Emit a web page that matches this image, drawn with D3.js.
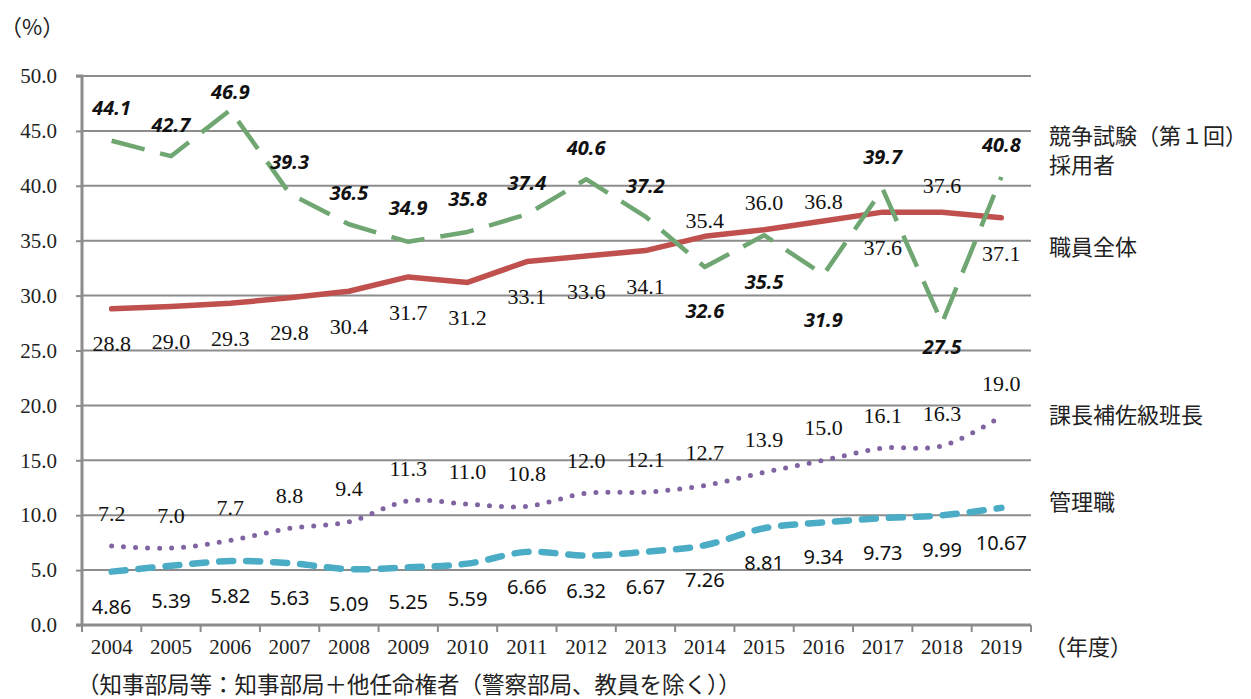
<!DOCTYPE html>
<html>
<head>
<meta charset="utf-8">
<script src="https://cdn.jsdelivr.net/npm/d3@7"></script>
<style>
  body { margin: 0; background: #fff; }
  svg { display: block; }
  .jp { font-family: "Noto Sans CJK JP", sans-serif; }
</style>
</head>
<body>
<div id="chart"></div>
<script>
var svgWidth = 1251;
var svgHeight = 699;

// plot area
var margin = { top: 76, right: 220, bottom: 74, left: 82 };
var width = svgWidth - margin.left - margin.right;
var height = svgHeight - margin.top - margin.bottom;

// data
var years = ["2004", "2005", "2006", "2007", "2008", "2009", "2010", "2011",
  "2012", "2013", "2014", "2015", "2016", "2017", "2018", "2019"];
var yTicks = [0, 5, 10, 15, 20, 25, 30, 35, 40, 45, 50];

var exam = [44.1, 42.7, 46.9, 39.3, 36.5, 34.9, 35.8, 37.4, 40.6, 37.2, 32.6, 35.5, 31.9, 39.7, 27.5, 40.8];
var staff = [28.8, 29.0, 29.3, 29.8, 30.4, 31.7, 31.2, 33.1, 33.6, 34.1, 35.4, 36.0, 36.8, 37.6, 37.6, 37.1];
var deputy = [7.2, 7.0, 7.7, 8.8, 9.4, 11.3, 11.0, 10.8, 12.0, 12.1, 12.7, 13.9, 15.0, 16.1, 16.3, 19.0];
var manager = [4.86, 5.39, 5.82, 5.63, 5.09, 5.25, 5.59, 6.66, 6.32, 6.67, 7.26, 8.81, 9.34, 9.73, 9.99, 10.67];

// label offsets (px from point)
var examDy = [-33, -31, -18, -31, -31, -34, -33, -31, -31, -31, 44, 47, 45, -32, 24, -32];
var staffDy = [35, 35, 35, 35, 35, 35, 35, 35, 35, 36, -16, -27, -20, 35, -27, 36];

var serifFont = "'Liberation Serif', 'DejaVu Serif', 'Times New Roman', serif";
var sansFont = "'Noto Sans', 'DejaVu Sans', sans-serif";

var svg = d3.select("#chart")
  .append("svg")
  .attr("width", svgWidth)
  .attr("height", svgHeight);

var chartGroup = svg.append("g")
  .attr("transform", `translate(${margin.left}, ${margin.top})`);

var xScale = d3.scaleBand().domain(years).range([0, width]).padding(0);
var yScale = d3.scaleLinear().domain([0, 50]).range([height, 0]);
var cx = d => xScale(d) + xScale.bandwidth() / 2;

// gridlines
chartGroup.append("g")
  .selectAll("line")
  .data(yTicks.slice(1))
  .enter()
  .append("line")
  .attr("x1", 0)
  .attr("x2", width)
  .attr("y1", d => yScale(d))
  .attr("y2", d => yScale(d))
  .attr("stroke", "#8c8c8c")
  .attr("stroke-width", 2);

// y axis
var leftAxis = d3.axisLeft(yScale)
  .tickValues(yTicks)
  .tickFormat(d3.format(".1f"))
  .tickSize(6)
  .tickPadding(19);

var yAxis = chartGroup.append("g").call(leftAxis)
  .attr("font-family", null)
  .attr("font-size", null);
yAxis.select(".domain").attr("stroke", "#8c8c8c").attr("stroke-width", 3)
  .attr("d", `M-6,${height}H0V0H-6`);
yAxis.selectAll(".tick line").attr("stroke", "#8c8c8c").attr("stroke-width", 2);
yAxis.selectAll("text")
  .style("font-family", serifFont)
  .style("font-size", "21px")
  .attr("fill", "#222");

// x axis
var bottomAxis = d3.axisBottom(xScale).tickSize(0).tickPadding(14);
var xAxis = chartGroup.append("g")
  .attr("transform", `translate(0, ${height})`)
  .call(bottomAxis)
  .attr("font-family", null)
  .attr("font-size", null);
xAxis.select(".domain").attr("stroke", "#8c8c8c").attr("stroke-width", 3)
  .attr("d", `M0,0H${width}`);
xAxis.selectAll("text")
  .style("font-family", serifFont)
  .style("font-size", "21px")
  .attr("fill", "#222");
// tick marks on band boundaries
xAxis.append("g")
  .selectAll("line")
  .data(years.concat(["end"]))
  .enter()
  .append("line")
  .attr("x1", (d, i) => i * xScale.bandwidth())
  .attr("x2", (d, i) => i * xScale.bandwidth())
  .attr("y1", 0)
  .attr("y2", 7)
  .attr("stroke", "#8c8c8c")
  .attr("stroke-width", 2);

// lines
function drawLine(values, color, w, dash, curve, cap) {
  var line = d3.line()
    .x((d, i) => cx(years[i]))
    .y(d => yScale(d))
    .curve(curve);
  chartGroup.append("path")
    .datum(values)
    .attr("d", line)
    .attr("fill", "none")
    .attr("stroke", color)
    .attr("stroke-width", w)
    .attr("stroke-dasharray", dash)
    .attr("stroke-linecap", cap)
    .attr("stroke-linejoin", "round");
}

drawLine(manager, "#4bacc6", 6.5, "14,13", d3.curveCatmullRom.alpha(0.5), "round");
drawLine(deputy, "#8064a2", 5, "0,12", d3.curveCatmullRom.alpha(0.5), "round");
drawLine(staff, "#c0504d", 5.5, null, d3.curveLinear, "round");
drawLine(exam, "#6fa672", 4.5, "34,16", d3.curveLinear, "butt");

// data labels
function drawLabels(values, dy, font, size, weight, style, fmt) {
  chartGroup.append("g")
    .selectAll("text")
    .data(values)
    .enter()
    .append("text")
    .attr("x", (d, i) => cx(years[i]))
    .attr("y", (d, i) => yScale(d) + dy[i])
    .attr("dy", "0.35em")
    .attr("text-anchor", "middle")
    .style("font-family", font)
    .style("font-size", size + "px")
    .style("font-weight", weight)
    .style("font-style", style)
    .attr("fill", "#111")
    .text(d => fmt(d));
}

drawLabels(exam, examDy, sansFont, 20, "bold", "italic", d3.format(".1f"));
drawLabels(staff, staffDy, serifFont, 22, "normal", "normal", d3.format(".1f"));
drawLabels(deputy, deputy.map(() => -33), serifFont, 22, "normal", "normal", d3.format(".1f"));
drawLabels(manager, manager.map(() => 35), sansFont, 20, "normal", "normal", d3.format(".2f"));

// series names
var names = [
  { t: "競争試験（第１回）", y: 136 },
  { t: "採用者", y: 165 },
  { t: "職員全体", y: 247 },
  { t: "課長補佐級班長", y: 415 },
  { t: "管理職", y: 502 }
];
svg.append("g")
  .selectAll("text")
  .data(names)
  .enter()
  .append("text")
  .attr("class", "jp")
  .attr("x", 1049)
  .attr("y", d => d.y)
  .attr("dy", "0.36em")
  .attr("font-size", 22)
  .attr("fill", "#222")
  .text(d => d.t);

// unit and notes
svg.append("text")
  .attr("class", "jp")
  .attr("x", 0)
  .attr("y", 27)
  .attr("dy", "0.36em")
  .attr("font-size", 22)
  .attr("fill", "#222")
  .text("（%）");

svg.append("text")
  .attr("class", "jp")
  .attr("x", 1044)
  .attr("y", 647)
  .attr("dy", "0.36em")
  .attr("font-size", 22)
  .attr("fill", "#222")
  .text("（年度）");

svg.append("text")
  .attr("class", "jp")
  .attr("x", 77)
  .attr("y", 685)
  .attr("dy", "0.36em")
  .attr("font-size", 22.5)
  .attr("fill", "#222")
  .text("（知事部局等：知事部局＋他任命権者（警察部局、教員を除く））");
</script>
</body>
</html>
